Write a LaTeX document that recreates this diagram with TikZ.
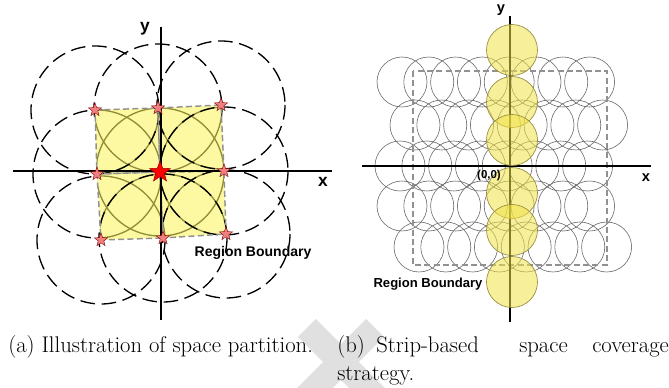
\documentclass[tikz,border=0pt]{standalone}
\usepackage{fontspec}
\newfontfamily\hv{Liberation Sans}
\usetikzlibrary{shapes.geometric}
\definecolor{pinkstar}{RGB}{240,128,128}
\definecolor{ylw}{RGB}{252,249,162}
\definecolor{olv}{RGB}{145,140,55}
\definecolor{cgray}{RGB}{105,105,105}
\definecolor{ycirc}{RGB}{240,226,70}
\definecolor{ycircd}{RGB}{150,140,60}
\definecolor{wm}{RGB}{224,224,224}
\definecolor{bgray}{RGB}{145,145,145}
\begin{document}
\begin{tikzpicture}[x=0.75pt,y=-0.75pt,
  axis/.style={line width=1.6pt},
  dcirc/.style={line width=1.0pt, dash pattern=on 11pt off 5pt},
  ocirc/.style={olv, line width=1.0pt},
  sqedge/.style={bgray, line width=1.1pt, dash pattern=on 4.5pt off 2.5pt},
  pstar/.style={star, star points=5, star point ratio=2.4, minimum size=10.5pt, inner sep=0pt, fill=pinkstar, draw=red!50!black, line width=0.3pt},
  cstar/.style={star, star points=5, star point ratio=2.4, minimum size=16.5pt, inner sep=0pt, fill=red, draw=red!60!black, line width=0.4pt},
  gcirc/.style={cgray, line width=0.45pt},
  yc/.style={fill=ycirc, fill opacity=0.55, draw=ycircd, line width=0.5pt},
  lbl/.style={font=\hv\bfseries\fontsize{10.5}{12}\selectfont, inner sep=0pt},
  captxt/.style={font=\fontsize{17}{20}\selectfont, inner sep=0pt, anchor=base west}
]
\useasboundingbox (0,0) rectangle (669,388);
% watermark
\begin{scope}
  \clip (0,0) rectangle (669,388);
  \draw[wm, line width=19pt] (307,328) -- (395,416);
  \draw[wm, line width=19pt] (375,328) -- (287,416);
\end{scope}

% ---------------- left panel ----------------
\coordinate (TL) at (95,110);
\coordinate (TM) at (158,108);
\coordinate (TR) at (221,105);
\coordinate (ML) at (97,174);
\coordinate (C)  at (160,172);
\coordinate (MR) at (224,171);
\coordinate (BL) at (101,240);
\coordinate (BM) at (163,238);
\coordinate (BR) at (226,234);

\fill[ylw] (TL)--(TM)--(TR)--(MR)--(BR)--(BM)--(BL)--(ML)--cycle;
\begin{scope}
  \clip (TL)--(TM)--(TR)--(MR)--(BR)--(BM)--(BL)--(ML)--cycle;
  \foreach \p in {TL,TM,TR,ML,C,MR,BL,BM,BR}
    \draw[ocirc] (\p) circle[radius=64];
\end{scope}
% dashed circles fully visible
\foreach \p in {TL,TR,MR,BM,BR}
  \draw[dcirc] (\p) circle[radius=64];
% dashed circles visible only outside the yellow region
\begin{scope}[even odd rule]
  \clip (0,0) rectangle (669,388)
    (TL)--(TM)--(TR)--(MR)--(BR)--(BM)--(BL)--(ML)--cycle;
  \foreach \p in {TM,ML,BL}
    \draw[dcirc] (\p) circle[radius=64];
\end{scope}

\draw[sqedge] (TL)--(TM)--(C)--(ML)--cycle;
\draw[sqedge] (TM)--(TR)--(MR)--(C)--cycle;
\draw[sqedge] (ML)--(C)--(BM)--(BL)--cycle;
\draw[sqedge] (C)--(MR)--(BR)--(BM)--cycle;

\coordinate (lxa) at (13,171);
\coordinate (lxb) at (332,171);
\coordinate (lya) at (161,27);
\coordinate (lyb) at (161,320);
\draw[axis] (lxa) -- (lxb);
\draw[axis] (lya) -- (lyb);

\foreach \p in {TL,TM,TR,ML,MR,BL,BM,BR}
  \node[pstar] (s\p) at (\p) {};
\node[cstar] (sC) at (C) {};

\node[lbl, font=\hv\bfseries\fontsize{13}{14}\selectfont] (ly) at (145,29) {y};
\node[lbl, font=\hv\bfseries\fontsize{13}{14}\selectfont] (lx) at (323,182) {x};
\node[lbl] (lrb) at (253,253) {Region Boundary};

% ---------------- right panel ----------------
\foreach \r/\y/\x in {1/82/402, 2/125/415, 3/166/400, 4/206/402, 5/247/419}
  \foreach \k in {0,...,7}
    \draw[gcirc] (\x+26.8*\k,\y) circle[radius=25];

\coordinate (ra) at (413,71);
\coordinate (rb) at (607,265);
\draw[sqedge, line width=1pt] (ra) rectangle (rb);

\coordinate (rxa) at (362,166);
\coordinate (rxb) at (651,166);
\coordinate (rya) at (510,16);
\coordinate (ryb) at (510,322);
\draw[axis, line width=1.3pt] (rxa) -- (rxb);
\draw[axis, line width=1.3pt] (rya) -- (ryb);

\foreach \y in {50,102,140,193,230,282}
  \draw[yc] (512,\y) circle[radius=25.5];

\node[lbl, font=\hv\bfseries\fontsize{11}{12}\selectfont] (ry) at (501,10) {y};
\node[lbl, font=\hv\bfseries\fontsize{11}{12}\selectfont] (rx) at (646,178) {x};
\node[lbl, font=\hv\bfseries\fontsize{8.6}{10}\selectfont] (ro) at (489,176) {(0,0)};
\node[lbl, font=\hv\bfseries\fontsize{9.8}{11}\selectfont] (rrb) at (428,284) {Region Boundary};

% ---------------- captions ----------------
\node[captxt] (capa) at (8,353) {(a) Illustration of space partition.};
\node[captxt] (capb1) at (337,353) {(b)};
\node[captxt] (capb2) at (376,353) {Strip-based};
\node[captxt] (capb3) at (519,353) {space};
\node[captxt] (capb4) at (592,353) {coverage};
\node[captxt] (capb5) at (337,381) {strategy.};
\end{tikzpicture}
\end{document}
